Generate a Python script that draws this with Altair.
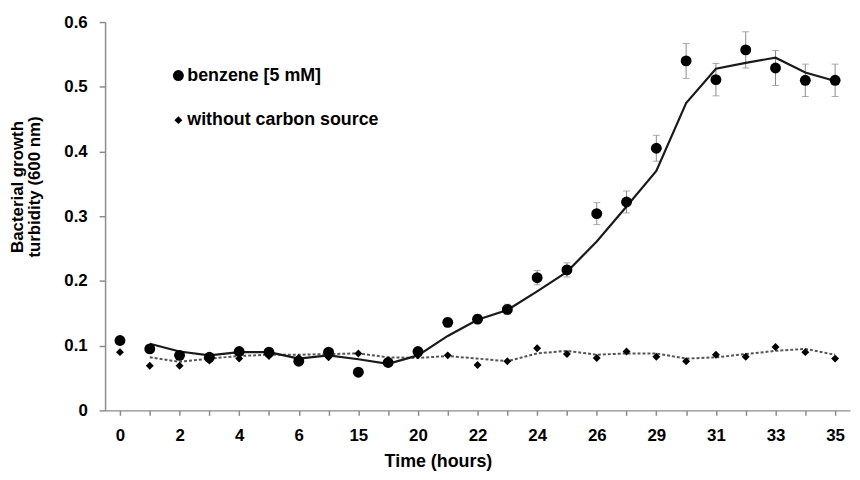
import json
import altair as alt
import pandas as pd

# ---- data ----
tick_labels = ["0", "", "2", "", "4", "", "6", "", "15", "", "20", "", "22", "",
               "24", "", "26", "", "29", "", "31", "", "33", "", "35"]
series_names = ["benzene [5 mM]", "without carbon source"]

benzene = [0.108, 0.095, 0.085, 0.082, 0.091, 0.090, 0.076, 0.090, 0.059, 0.074,
           0.091, 0.136, 0.141, 0.156, 0.205, 0.217, 0.304, 0.322, 0.405, 0.540,
           0.511, 0.557, 0.529, 0.510, 0.510]
benzene_err = [0.006, 0.004, 0.004, 0.004, 0.004, 0.004, 0.004, 0.004, 0.004, 0.004,
               0.004, 0.007, 0.007, 0.008, 0.011, 0.011, 0.017, 0.017, 0.020, 0.027,
               0.025, 0.028, 0.027, 0.025, 0.025]
control = [0.090, 0.069, 0.069, 0.077, 0.080, 0.084, 0.081, 0.082, 0.088, 0.077,
           0.085, 0.085, 0.070, 0.076, 0.096, 0.087, 0.081, 0.091, 0.083, 0.076,
           0.086, 0.083, 0.098, 0.090, 0.080]
# trend lines (start at the second time point)
benzene_trend = [0.103, 0.091, 0.085, 0.090, 0.090, 0.080, 0.085, 0.079, 0.072, 0.085,
                 0.115, 0.140, 0.155, 0.184, 0.214, 0.261, 0.315, 0.370, 0.475, 0.528,
                 0.537, 0.545, 0.522, 0.509]
control_trend = [0.082, 0.075, 0.080, 0.084, 0.086, 0.086, 0.087, 0.088, 0.082, 0.081,
                 0.084, 0.080, 0.076, 0.088, 0.092, 0.086, 0.088, 0.088, 0.080, 0.082,
                 0.087, 0.092, 0.095, 0.086]

# ---- tables ----
n = len(tick_labels)
idx = list(range(n))
pts = pd.DataFrame({
    "idx": idx + idx,
    "value": benzene + control,
    "series": [series_names[0]] * n + [series_names[1]] * n,
})
err = pd.DataFrame({
    "idx": idx,
    "lo": [b - e for b, e in zip(benzene, benzene_err)],
    "hi": [b + e for b, e in zip(benzene, benzene_err)],
})
tr_b = pd.DataFrame({"idx": idx[1:], "value": benzene_trend})
tr_c = pd.DataFrame({"idx": idx[1:], "value": control_trend})

FONT = "Liberation Sans"
AX = "#8c8c8c"

x_enc = alt.X(
    "idx:O",
    scale=alt.Scale(type="point", padding=0.5, domain=idx),
    axis=alt.Axis(
        title="Time (hours)",
        labelExpr=json.dumps(tick_labels) + "[datum.value]",
        labelAngle=0, labelOverlap=False, labelFont=FONT, labelFontSize=17,
        labelFontWeight="bold", labelColor="black", labelPadding=12,
        tickSize=5, tickColor=AX, tickWidth=1.5, domainColor=AX, domainWidth=1.5,
        titleFont=FONT, titleFontSize=18, titleFontWeight="bold", titleColor="black",
        titleX=336, titleY=52, titleBaseline="middle", titleAlign="center",
        grid=False,
    ),
)
y_scale = alt.Scale(domain=[0, 0.6], nice=False)
y_axis = alt.Axis(
    title=["Bacterial growth", "turbidity (600 nm)"],
    values=[0, 0.1, 0.2, 0.3, 0.4, 0.5, 0.6], format=".1~f",
    labelFont=FONT, labelFontSize=17, labelFontWeight="bold", labelColor="black",
    labelPadding=12, tickSize=6, tickColor=AX, tickWidth=1.5,
    domainColor=AX, domainWidth=1.5, grid=False,
    titleFont=FONT, titleFontSize=17, titleFontWeight="bold", titleColor="black",
    titleLineHeight=17, titleX=-88, titleY=166, titleBaseline="middle",
    titleAlign="center", titleAngle=270,
)

legend = alt.Legend(
    title=None, orient="none", legendX=65, legendY=45, padding=0,
    labelFont=FONT, labelFontSize=18, labelFontWeight="bold", labelColor="black",
    labelOffset=0, rowPadding=27, labelLimit=400,
)

bars = alt.Chart(err).mark_rule(color="#8a8a8a", strokeWidth=1).encode(
    x=x_enc, y=alt.Y("lo:Q", scale=y_scale, axis=y_axis), y2="hi:Q"
)
cap_lo = alt.Chart(err).mark_tick(color="#8a8a8a", thickness=1, size=7).encode(
    x=x_enc, y=alt.Y("lo:Q", scale=y_scale)
)
cap_hi = alt.Chart(err).mark_tick(color="#8a8a8a", thickness=1, size=7).encode(
    x=x_enc, y=alt.Y("hi:Q", scale=y_scale)
)
line_b = alt.Chart(tr_b).mark_line(color="#1a1a1a", strokeWidth=2.2).encode(
    x=x_enc, y=alt.Y("value:Q", scale=y_scale)
)
line_c = alt.Chart(tr_c).mark_line(color="#555555", strokeWidth=2, strokeDash=[3, 2]).encode(
    x=x_enc, y=alt.Y("value:Q", scale=y_scale)
)
points = alt.Chart(pts).mark_point(filled=True, opacity=1, strokeWidth=0).encode(
    x=x_enc,
    y=alt.Y("value:Q", scale=y_scale),
    shape=alt.Shape("series:N", scale=alt.Scale(domain=series_names, range=["circle", "diamond"]), legend=legend),
    size=alt.Size("series:N", scale=alt.Scale(domain=series_names, range=[121, 64]), legend=legend),
    color=alt.Color("series:N", scale=alt.Scale(domain=series_names, range=["black", "black"]), legend=legend),
)

chart = alt.layer(bars, cap_lo, cap_hi, line_c, line_b, points).properties(
    width=752, height=392,
    autosize=alt.AutoSizeParams(type="none"),
    padding={"left": 98, "top": 12, "right": 2, "bottom": 60},
    background="white",
).configure_view(stroke=None)

chart.save("out.html", embed_options={"renderer": "svg", "actions": False})
